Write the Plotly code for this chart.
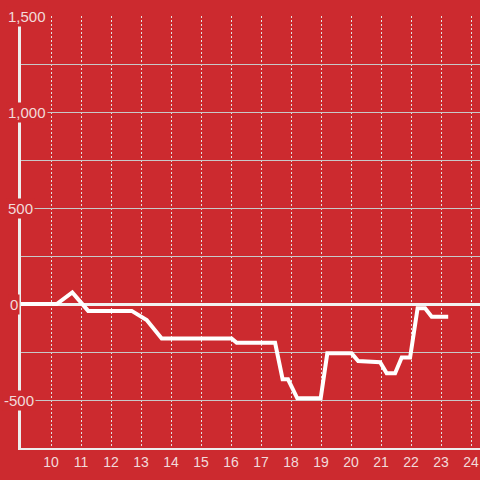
import plotly.graph_objects as go

# data
hours = [9.0, 10.19, 10.71, 11.24, 12.69, 13.19, 13.69, 16.02, 16.19, 17.47, 17.72, 17.9,
         18.21, 18.99, 19.21, 20.02, 20.24, 20.97, 21.19, 21.47, 21.69, 21.97, 22.22,
         22.47, 22.69, 23.24]
values = [0, 0, 60, -36, -36, -83, -180, -180, -202, -202, -392, -392,
          -491, -491, -257, -257, -297, -303, -361, -361, -279, -279, -22,
          -22, -66, -66]
x_ticks = list(range(10, 25))
y_label_vals = [1500, 1000, 500, 0, -500]
y_label_text = ["1,500", "1,000", "500", "0", "-500"]
y_label_left_px = [6, 6, 6, 8, 2]

BG = "#cc2a2f"
TXT = "#f2dada"
FONT = "Liberation Sans, Arial, sans-serif"

L, R, T, B = 21, 0, 16, 32
W = H = 480
plot_w = W - L - R

fig = go.Figure()
fig.add_trace(go.Scatter(x=hours, y=values, mode="lines",
                         line=dict(color="#ffffff", width=4), hoverinfo="skip"))

annotations = []
for v, t, px in zip(y_label_vals, y_label_text, y_label_left_px):
    annotations.append(dict(
        x=(px - L) / plot_w, xref="paper", y=v, yref="y",
        text=t, showarrow=False, xanchor="left", yanchor="middle",
        bgcolor=BG, borderpad=1,
        font=dict(family=FONT, size=15, color=TXT)))

fig.update_layout(
    width=W, height=H, margin=dict(l=L, r=R, t=T, b=B),
    paper_bgcolor=BG, plot_bgcolor=BG, showlegend=False,
    annotations=annotations,
    xaxis=dict(range=[9, 24.3], tickmode="array", tickvals=x_ticks,
               showgrid=True, gridcolor="#e2e2e2", gridwidth=1, griddash="2px,2px",
               showline=True, linecolor="#eeeeee", linewidth=2,
               ticks="", zeroline=False,
               tickfont=dict(family=FONT, size=14, color=TXT)),
    yaxis=dict(range=[-750, 1500], tickmode="array",
               tickvals=[1500, 1250, 1000, 750, 500, 250, -250, -500],
               showticklabels=False,
               showgrid=True, gridcolor="#c8c8c8", gridwidth=1,
               showline=True, linecolor="#eeeeee", linewidth=3,
               zeroline=True, zerolinecolor="#f2f2f2", zerolinewidth=3,
               ticks=""),
)

fig.write_html("out.html", config={"displayModeBar": False},
               post_script="document.body.style.margin='0';document.body.style.overflow='hidden';")
